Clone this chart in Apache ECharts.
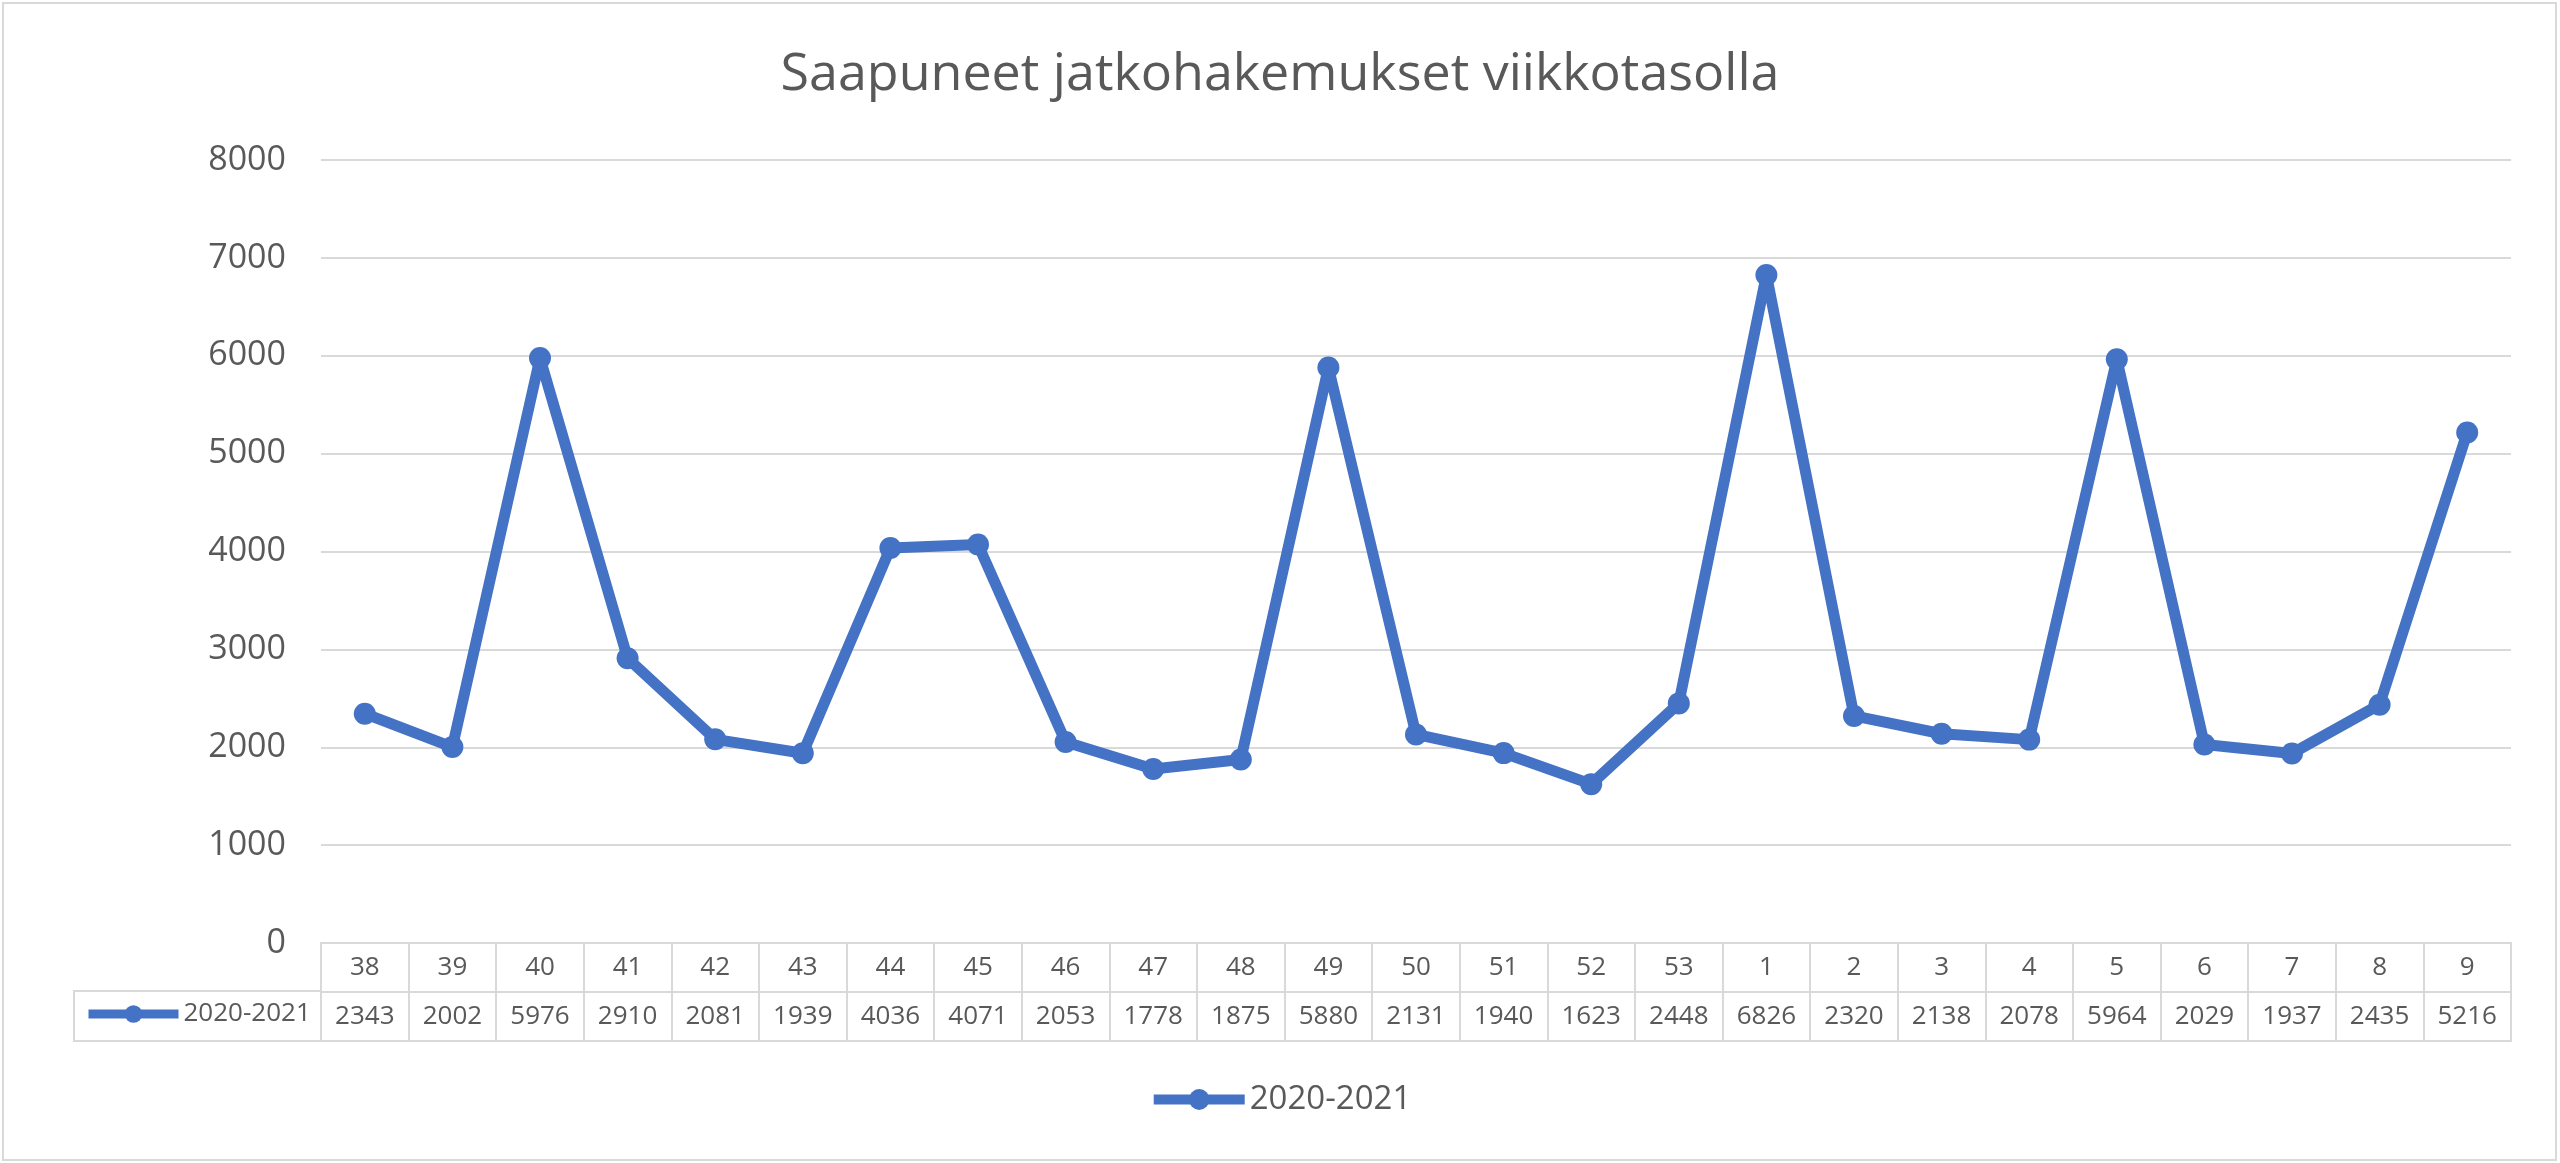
<!DOCTYPE html>
<html>
<head>
<meta charset="utf-8">
<script src="https://cdn.jsdelivr.net/npm/echarts@6/dist/echarts.min.js"></script>
<style>
html,body{margin:0;padding:0;background:#fff;}
#chart{width:2560px;height:1163px;}
</style>
</head>
<body>
<div id="chart"></div>
<script>
const titleText = 'Saapuneet jatkohakemukset viikkotasolla';
const seriesName = '2020-2021';
const weeks = ['38','39','40','41','42','43','44','45','46','47','48','49','50','51','52','53','1','2','3','4','5','6','7','8','9'];
const values = [2343,2002,5976,2910,2081,1939,4036,4071,2053,1778,1875,5880,2131,1940,1623,2448,6826,2320,2138,2078,5964,2029,1937,2435,5216];
const yTicks = {min:0, max:8000, interval:1000};

const FONT = '"Open Sans", sans-serif';
const TEXT = '#595959';
const GRID = '#d9d9d9';
const BLUE = '#4472C4';
const W = 2560, H = 1163;
const GL = 321, GR = 2511, GT = 160, GB = 943;
const ROW = 49;
const TABLE_LEFT = 74;

const chart = echarts.init(document.getElementById('chart'), null, {width: W, height: H});

const option = {
  backgroundColor: '#fff',
  animation: false,
  textStyle: {fontFamily: FONT, color: TEXT},
  title: {
    text: titleText,
    left: 'center',
    top: 44,
    textStyle: {fontFamily: FONT, fontSize: 52, fontWeight: 'normal', color: TEXT}
  },
  legend: [
    {
      data: [seriesName],
      left: 'center',
      top: 1083,
      padding: 0,
      itemWidth: 91,
      itemHeight: 26,
      selectedMode: false,
      textStyle: {fontFamily: FONT, fontSize: 33, color: TEXT},
      lineStyle: {width: 10}
    },
    {
      data: [seriesName],
      left: 84,
      top: GB + ROW + 9,
      padding: 0,
      itemWidth: 90,
      itemHeight: 22,
      selectedMode: false,
      textStyle: {fontFamily: FONT, fontSize: 26, color: TEXT},
      lineStyle: {width: 9}
    }
  ],
  grid: {left: GL, right: W - GR, top: GT, bottom: H - GB, containLabel: false},
  xAxis: [
    {
      type: 'category',
      data: weeks,
      boundaryGap: true,
      axisLine: {show: true, lineStyle: {color: GRID, width: 2}},
      axisTick: {show: true, interval: 0, length: ROW * 2, lineStyle: {color: GRID, width: 2}},
      axisLabel: {
        interval: 0,
        margin: 0,
        formatter: function (v, i) { return '{w|' + v + '}\n{v|' + values[i] + '}'; },
        rich: {
          w: {fontFamily: FONT, fontSize: 26, color: TEXT, lineHeight: ROW},
          v: {fontFamily: FONT, fontSize: 26, color: TEXT, lineHeight: ROW}
        }
      },
      splitLine: {show: false}
    },
    {
      type: 'category', data: weeks, position: 'bottom', offset: ROW,
      axisLine: {show: true, lineStyle: {color: GRID, width: 2}},
      axisTick: {show: false}, axisLabel: {show: false}, splitLine: {show: false}
    },
    {
      type: 'category', data: weeks, position: 'bottom', offset: ROW * 2,
      axisLine: {show: true, lineStyle: {color: GRID, width: 2}},
      axisTick: {show: false}, axisLabel: {show: false}, splitLine: {show: false}
    }
  ],
  yAxis: {
    type: 'value',
    min: yTicks.min, max: yTicks.max, interval: yTicks.interval,
    axisLine: {show: false},
    axisTick: {show: false},
    axisLabel: {fontFamily: FONT, fontSize: 34, color: TEXT, margin: 35, formatter: function (v) { return String(v); }},
    splitLine: {show: true, lineStyle: {color: GRID, width: 2}}
  },
  series: [{
    name: seriesName,
    type: 'line',
    data: values,
    xAxisIndex: 0,
    symbol: 'circle',
    symbolSize: 22,
    lineStyle: {color: BLUE, width: 11},
    itemStyle: {color: BLUE},
    label: {show: false},
    z: 5
  }],
  graphic: [
    {
      type: 'rect', silent: true,
      shape: {x: 3, y: 3, width: W - 7, height: H - 6},
      style: {fill: 'none', stroke: GRID, lineWidth: 2}
    },
    {
      type: 'rect', silent: true,
      shape: {x: TABLE_LEFT, y: GB + ROW - 1, width: GL - TABLE_LEFT, height: ROW + 1},
      style: {fill: 'none', stroke: GRID, lineWidth: 2}
    }
  ]
};
chart.setOption(option);
</script>
</body>
</html>
